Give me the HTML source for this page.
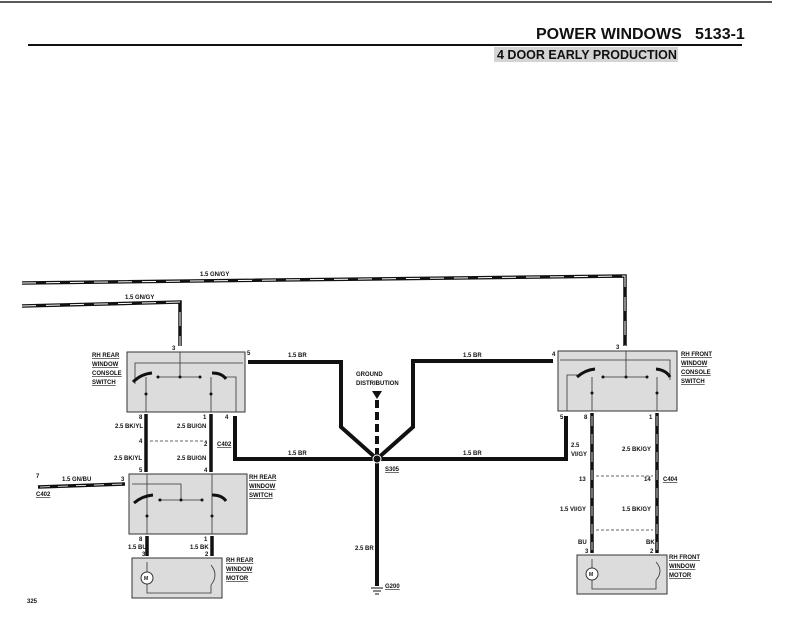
<!DOCTYPE html>
<html><head><meta charset="utf-8"><style>
html,body{margin:0;padding:0;background:#fff;}
svg{display:block;}
text{font-family:"Liberation Sans",sans-serif;font-weight:bold;fill:#111;}
.s{font-size:6px;}
.h{font-size:16px;}
</style></head><body>
<svg width="790" height="621" viewBox="0 0 790 621" xmlns="http://www.w3.org/2000/svg">
<line x1="0" y1="2" x2="772" y2="2" stroke="#222" stroke-width="1.5"/>
<text x="536" y="39" class="h">POWER WINDOWS</text>
<text x="695" y="39" class="h">5133-1</text>
<line x1="28" y1="45" x2="742" y2="45" stroke="#111" stroke-width="2"/>
<rect x="494" y="47" width="184" height="15" fill="#d4d4d4"/>
<text x="497" y="59" style="font-size:12.5px">4 DOOR EARLY PRODUCTION</text>

<g fill="none" stroke="#111" stroke-width="3.5">
<polyline points="22,283 625,276 625,346"/>
<polyline points="22,306 180,302 180,346"/>
</g>
<g fill="none" stroke="#fff" stroke-width="1" stroke-dasharray="14 10">
<polyline points="22,283 625,276 625,346"/>
<polyline points="22,306 180,302 180,346"/>
</g>
<text x="200" y="276" class="s">1.5 GN/GY</text>
<text x="125" y="299" class="s">1.5 GN/GY</text>

<g fill="#dcdcdc" stroke="#333" stroke-width="1">
<rect x="127" y="352" width="118" height="60"/>
<rect x="558" y="351" width="119" height="60"/>
<rect x="129" y="474" width="118" height="60"/>
<rect x="132" y="558" width="90" height="40"/>
<rect x="577" y="555" width="90" height="39"/>
</g>

<g fill="none" stroke="#111" stroke-width="4">
<polyline points="248,362 341,362 341,427 377,459 413,427 413,361 553,361"/>
<polyline points="235,416 235,459 566,459 566,416"/>
<line x1="377" y1="459" x2="377" y2="586"/>
</g>
<line x1="377" y1="400" x2="377" y2="456" stroke="#111" stroke-width="4" stroke-dasharray="8 4"/>
<polygon points="372,391 382,391 377,399" fill="#111"/>
<circle cx="377" cy="459" r="4" fill="#111" stroke="#fff" stroke-width="1"/>
<g stroke="#111" stroke-width="1"><line x1="371" y1="588" x2="383" y2="588"/><line x1="373" y1="591" x2="381" y2="591"/><line x1="375" y1="594" x2="379" y2="594"/></g>
<text x="288" y="357" class="s">1.5 BR</text>
<text x="463" y="357" class="s">1.5 BR</text>
<text x="288" y="455" class="s">1.5 BR</text>
<text x="463" y="455" class="s">1.5 BR</text>
<text x="356" y="376" class="s">GROUND</text>
<text x="356" y="385" class="s">DISTRIBUTION</text>
<text x="385" y="471" class="s" text-decoration="underline">S305</text>
<text x="355" y="550" class="s">2.5 BR</text>
<text x="385" y="588" class="s" text-decoration="underline">G200</text>

<g stroke="#111" stroke-width="3.5">
<line x1="146" y1="414" x2="146" y2="472"/>
<line x1="211" y1="414" x2="211" y2="472"/>
<line x1="147" y1="536" x2="147" y2="556"/>
<line x1="212" y1="536" x2="212" y2="556"/>
<line x1="592" y1="413" x2="592" y2="553"/>
<line x1="657" y1="413" x2="657" y2="553"/>
<line x1="38" y1="487" x2="125" y2="484"/>
</g>
<g stroke="#fff" stroke-width="0.8" stroke-dasharray="10 8">
<line x1="592" y1="416" x2="592" y2="550"/>
<line x1="657" y1="416" x2="657" y2="550"/>
<line x1="40" y1="487" x2="123" y2="484"/>
</g>
<g stroke="#333" stroke-width="0.7" stroke-dasharray="3 2">
<line x1="150" y1="441" x2="207" y2="441"/>
<line x1="596" y1="476" x2="653" y2="476"/>
<line x1="596" y1="530" x2="653" y2="530"/>
</g>

<g fill="none" stroke="#333" stroke-width="0.8">
<polyline points="135,384 135,363 243,363"/>
<line x1="180" y1="352" x2="180" y2="377"/>
<line x1="158" y1="377" x2="200" y2="377"/>
<line x1="146" y1="377" x2="146" y2="412"/>
<line x1="211" y1="377" x2="211" y2="412"/>
<polyline points="225,377 236,377 236,412"/>
<polyline points="670,380 670,360 560,360"/>
<line x1="626" y1="351" x2="626" y2="377"/>
<line x1="602" y1="377" x2="648" y2="377"/>
<line x1="592" y1="377" x2="592" y2="411"/>
<line x1="657" y1="377" x2="657" y2="411"/>
<polyline points="578,375 567,375 567,411"/>
<polyline points="132,484 181,484 181,500"/>
<line x1="158" y1="500" x2="202" y2="500"/>
<line x1="147" y1="474" x2="147" y2="534"/>
<line x1="212" y1="474" x2="212" y2="534"/>
<polyline points="147,562 147,593 211,593 211,585"/>
<path d="M211,565 q8,10 0,20"/>
<polyline points="592,559 592,589 656,589 656,580"/>
<path d="M656,562 q8,9 0,18"/>
</g>
<g fill="none" stroke="#111" stroke-width="3">
<path d="M133,382 q8,-8 19,-9"/><path d="M212,373 q10,0 14,6"/>
<path d="M134,503 q8,-7 19,-8"/><path d="M212,495 q10,0 14,6"/>
<path d="M577,377 q8,-7 18,-8"/><path d="M656,369 q10,1 14,8"/>
</g>
<g fill="#111">
<circle cx="158" cy="377" r="1.5"/><circle cx="180" cy="377" r="1.5"/><circle cx="200" cy="377" r="1.5"/>
<circle cx="146" cy="394" r="1.5"/><circle cx="211" cy="394" r="1.5"/>
<circle cx="603" cy="377" r="1.5"/><circle cx="626" cy="377" r="1.5"/><circle cx="647" cy="377" r="1.5"/>
<circle cx="592" cy="393" r="1.5"/><circle cx="657" cy="393" r="1.5"/>
<circle cx="160" cy="500" r="1.5"/><circle cx="181" cy="500" r="1.5"/><circle cx="202" cy="500" r="1.5"/>
<circle cx="147" cy="516" r="1.5"/><circle cx="212" cy="516" r="1.5"/>
</g>
<g fill="#fff" stroke="#333" stroke-width="1">
<circle cx="147" cy="578" r="6"/><circle cx="592" cy="574" r="6"/>
</g>
<text x="144" y="580" style="font-size:5px">M</text>
<text x="589" y="576" style="font-size:5px">M</text>

<g>
<text x="92" y="357" class="s" text-decoration="underline">RH REAR</text>
<text x="92" y="366" class="s" text-decoration="underline">WINDOW</text>
<text x="92" y="375" class="s" text-decoration="underline">CONSOLE</text>
<text x="92" y="384" class="s" text-decoration="underline">SWITCH</text>
<text x="681" y="356" class="s" text-decoration="underline">RH FRONT</text>
<text x="681" y="365" class="s" text-decoration="underline">WINDOW</text>
<text x="681" y="374" class="s" text-decoration="underline">CONSOLE</text>
<text x="681" y="383" class="s" text-decoration="underline">SWITCH</text>
<text x="249" y="479" class="s" text-decoration="underline">RH REAR</text>
<text x="249" y="488" class="s" text-decoration="underline">WINDOW</text>
<text x="249" y="497" class="s" text-decoration="underline">SWITCH</text>
<text x="226" y="562" class="s" text-decoration="underline">RH REAR</text>
<text x="226" y="571" class="s" text-decoration="underline">WINDOW</text>
<text x="226" y="580" class="s" text-decoration="underline">MOTOR</text>
<text x="669" y="559" class="s" text-decoration="underline">RH FRONT</text>
<text x="669" y="568" class="s" text-decoration="underline">WINDOW</text>
<text x="669" y="577" class="s" text-decoration="underline">MOTOR</text>
<text x="172" y="350" class="s">3</text>
<text x="247" y="355" class="s">5</text>
<text x="616" y="349" class="s">3</text>
<text x="552" y="356" class="s">4</text>
<text x="139" y="419" class="s">8</text>
<text x="203" y="419" class="s">1</text>
<text x="225" y="419" class="s">4</text>
<text x="560" y="419" class="s">5</text>
<text x="584" y="419" class="s">8</text>
<text x="649" y="419" class="s">1</text>
<text x="115" y="428" class="s">2.5 BK/YL</text>
<text x="177" y="428" class="s">2.5 BU/GN</text>
<text x="139" y="443" class="s">4</text>
<text x="204" y="446" class="s">2</text>
<text x="217" y="446" class="s" text-decoration="underline">C402</text>
<text x="114" y="460" class="s">2.5 BK/YL</text>
<text x="177" y="460" class="s">2.5 BU/GN</text>
<text x="139" y="472" class="s">5</text>
<text x="204" y="472" class="s">4</text>
<text x="121" y="481" class="s">3</text>
<text x="36" y="478" class="s">7</text>
<text x="62" y="481" class="s">1.5 GN/BU</text>
<text x="36" y="496" class="s" text-decoration="underline">C402</text>
<text x="139" y="541" class="s">8</text>
<text x="204" y="541" class="s">1</text>
<text x="128" y="549" class="s">1.5 BU</text>
<text x="190" y="549" class="s">1.5 BK</text>
<text x="142" y="556" class="s">3</text>
<text x="205" y="556" class="s">2</text>
<text x="571" y="447" class="s">2.5</text>
<text x="571" y="456" class="s">VI/GY</text>
<text x="622" y="451" class="s">2.5 BK/GY</text>
<text x="579" y="481" class="s">13</text>
<text x="644" y="481" class="s">14</text>
<text x="663" y="481" class="s" text-decoration="underline">C404</text>
<text x="560" y="511" class="s">1.5 VI/GY</text>
<text x="622" y="511" class="s">1.5 BK/GY</text>
<text x="578" y="544" class="s">BU</text>
<text x="646" y="544" class="s">BK</text>
<text x="585" y="553" class="s">3</text>
<text x="650" y="553" class="s">2</text>
<text x="27" y="603" class="s">325</text>
</g>
</svg>
</body></html>
